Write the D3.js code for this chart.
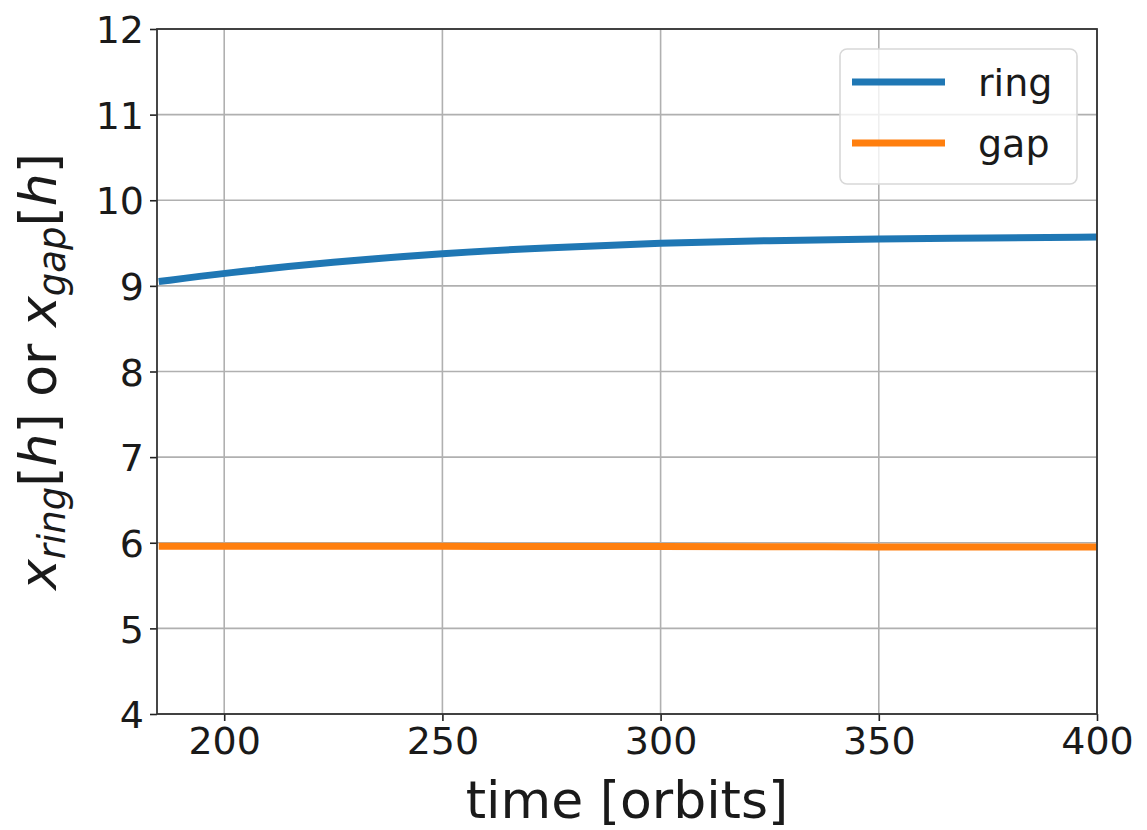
<!DOCTYPE html>
<html>
<head>
<meta charset="utf-8">
<script src="https://cdn.jsdelivr.net/npm/d3@7"></script>
<style>
  html, body { margin: 0; padding: 0; background: #fff; }
  svg { display: block; font-family: "DejaVu Sans", sans-serif; }
</style>
</head>
<body>
<svg id="chart" width="1147" height="830"></svg>
<script>
// Time samples (orbits)
const time = [185, 200, 225, 250, 275, 300, 325, 350, 375, 400];
// Ring position x_ring [h]
const ringPos = [9.05, 9.15, 9.28, 9.38, 9.45, 9.50, 9.53, 9.55, 9.56, 9.57];
// Gap position x_gap [h]
const gapPos = [5.96, 5.96, 5.96, 5.96, 5.955, 5.955, 5.955, 5.95, 5.95, 5.95];

const xTicks = [200, 250, 300, 350, 400];
const yTicks = [4, 5, 6, 7, 8, 9, 10, 11, 12];

const seriesNames = ["ring", "gap"];
const seriesColors = ["#1f77b4", "#ff7f0e"];

const margin = { left: 157, right: 50, top: 29, bottom: 116 };
const W = 1147, H = 830;
const svg = d3.select("#chart");

const x = d3.scaleLinear().domain([184.6, 400]).range([margin.left, W - margin.right]);
const y = d3.scaleLinear().domain([4, 12]).range([H - margin.bottom, margin.top]);

// grid
const grid = svg.append("g");
grid.selectAll(".gx").data(xTicks).join("line")
  .attr("x1", d => x(d)).attr("x2", d => x(d))
  .attr("y1", y(4)).attr("y2", y(12))
  .attr("stroke", "#b0b0b0").attr("stroke-width", 1.6);
grid.selectAll(".gy").data(yTicks).join("line")
  .attr("x1", x.range()[0]).attr("x2", x.range()[1])
  .attr("y1", d => y(d)).attr("y2", d => y(d))
  .attr("stroke", "#b0b0b0").attr("stroke-width", 1.6);

// lines
const series = [ringPos, gapPos];
const line = d3.line().x((d, i) => x(time[i])).y(d => y(d)).curve(d3.curveBasis);
const plot = svg.append("g");
series.forEach((s, k) => {
  plot.append("path").datum(s)
    .attr("d", line)
    .attr("fill", "none")
    .attr("stroke", seriesColors[k])
    .attr("stroke-width", 7);
});

// axes
const xAxis = d3.axisBottom(x).tickValues(xTicks).tickSize(7).tickPadding(6).tickFormat(d3.format("d"));
const yAxis = d3.axisLeft(y).tickValues(yTicks).tickSize(7).tickPadding(6).tickFormat(d3.format("d"));

const gx = svg.append("g").attr("transform", `translate(0,${y(4)})`).call(xAxis);
const gy = svg.append("g").attr("transform", `translate(${x.range()[0]},0)`).call(yAxis);
[gx, gy].forEach(g => {
  g.select(".domain").remove();
  g.selectAll(".tick line").attr("stroke", "#222").attr("stroke-width", 1.6);
  g.selectAll(".tick text").attr("fill", "#1a1a1a").style("font-size", "38px").style("font-family", "DejaVu Sans");
});
gx.selectAll(".tick text").attr("dy", "0.71em");
gy.selectAll(".tick text").attr("dy", "0.36em");

// frame
svg.append("rect")
  .attr("x", x.range()[0]).attr("y", y(12))
  .attr("width", x.range()[1] - x.range()[0]).attr("height", y(4) - y(12))
  .attr("fill", "none").attr("stroke", "#333").attr("stroke-width", 1.8);

// axis labels
svg.append("text")
  .attr("x", (x.range()[0] + x.range()[1]) / 2).attr("y", 818)
  .attr("text-anchor", "middle")
  .style("font-size", "52px").attr("fill", "#1a1a1a")
  .text("time [orbits]");

const yl = svg.append("text")
  .attr("transform", `translate(56,${(y(4) + y(12)) / 2}) rotate(-90)`)
  .attr("text-anchor", "middle")
  .style("font-size", "52px").attr("fill", "#1a1a1a");
yl.append("tspan").style("font-style", "italic").text("x");
yl.append("tspan").style("font-style", "italic").style("font-size", "37px").attr("dy", 9).text("ring");
yl.append("tspan").attr("dy", -9).text("[");
yl.append("tspan").style("font-style", "italic").text("h");
yl.append("tspan").text("] or ");
yl.append("tspan").style("font-style", "italic").text("x");
yl.append("tspan").style("font-style", "italic").style("font-size", "37px").attr("dy", 9).text("gap");
yl.append("tspan").attr("dy", -9).text("[");
yl.append("tspan").style("font-style", "italic").text("h");
yl.append("tspan").text("]");

// legend
const lg = svg.append("g").attr("transform", "translate(840,49)");
lg.append("rect")
  .attr("width", 237).attr("height", 135).attr("rx", 7)
  .attr("fill", "rgba(255,255,255,0.8)").attr("stroke", "#d8d8d8").attr("stroke-width", 1.6);
seriesNames.forEach((name, k) => {
  const yy = 33 + k * 61;
  lg.append("line").attr("x1", 12).attr("x2", 105).attr("y1", yy).attr("y2", yy)
    .attr("stroke", seriesColors[k]).attr("stroke-width", 7);
  lg.append("text").attr("x", 138).attr("y", yy).attr("dy", "0.36em")
    .style("font-size", "38px").attr("fill", "#1a1a1a").text(name);
});
</script>
</body>
</html>
